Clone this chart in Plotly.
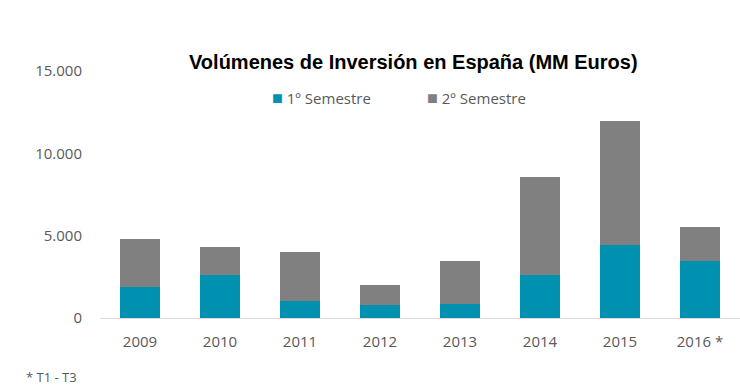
import plotly.graph_objects as go

years = ["2009", "2010", "2011", "2012", "2013", "2014", "2015", "2016 *"]
sem1 = [1860, 2590, 1030, 770, 850, 2600, 4410, 3440]
total = [4800, 4310, 3990, 2000, 3460, 8580, 11990, 5530]
sem2 = [t - s for t, s in zip(total, sem1)]
yticks = [0, 5000, 10000, 15000]
ytick_text = ["0", "5.000", "10.000", "15.000"]

C1 = "#0090B0"
C2 = "#808080"
TXT = "#595959"

W, H = 740, 389
L, R, T, B = 100, 0, 71.4, 70.7
PW, PH = W - L - R, H - T - B


def px(x):
    return (x - L) / PW


def py(y):
    return (H - B - y) / PH


fig = go.Figure()
fig.add_trace(go.Bar(x=years, y=sem1, name="1º Semestre", marker_color=C1, marker_line_width=0, showlegend=False))
fig.add_trace(go.Bar(x=years, y=sem2, name="2º Semestre", marker_color=C2, marker_line_width=0, showlegend=False))

ann = [
    dict(text="<b>Volúmenes de Inversión en España (MM Euros)</b>", x=px(413.5), y=py(62),
         xanchor="center", yanchor="middle", font=dict(family="Liberation Sans", size=20, color="#000000")),
    dict(text=f"<span style='color:{C1}; font-size:18px'>■</span> 1º Semestre", x=px(270), y=py(97),
         xanchor="left", yanchor="middle", font=dict(size=15, color=TXT)),
    dict(text=f"<span style='color:{C2}; font-size:18px'>■</span> 2º Semestre", x=px(425), y=py(97),
         xanchor="left", yanchor="middle", font=dict(size=15, color=TXT)),
    dict(text="* T1 - T3", x=px(24), y=py(377), xanchor="left", yanchor="middle",
         font=dict(size=13, color=TXT)),
]
for a in ann:
    a.update(xref="paper", yref="paper", showarrow=False)

fig.update_layout(
    width=W, height=H,
    barmode="stack", bargap=0.5,
    plot_bgcolor="white", paper_bgcolor="white",
    margin=dict(l=L, r=R, t=T, b=B, autoexpand=False),
    font=dict(family="Open Sans", size=15, color=TXT),
    showlegend=False,
    xaxis=dict(showgrid=False, showline=True, linecolor="#d9d9d9", linewidth=1, ticks="",
               ticklabelstandoff=10, tickfont=dict(size=15, color=TXT)),
    yaxis=dict(range=[0, 15000], tickvals=yticks, ticktext=ytick_text, showgrid=False,
               zeroline=False, showline=False, ticks="", ticklabelstandoff=17,
               tickfont=dict(size=15, color=TXT)),
    annotations=ann,
)
fig.write_html("out.html", config={"displayModeBar": False},
               post_script="document.body.style.margin='0px';")
